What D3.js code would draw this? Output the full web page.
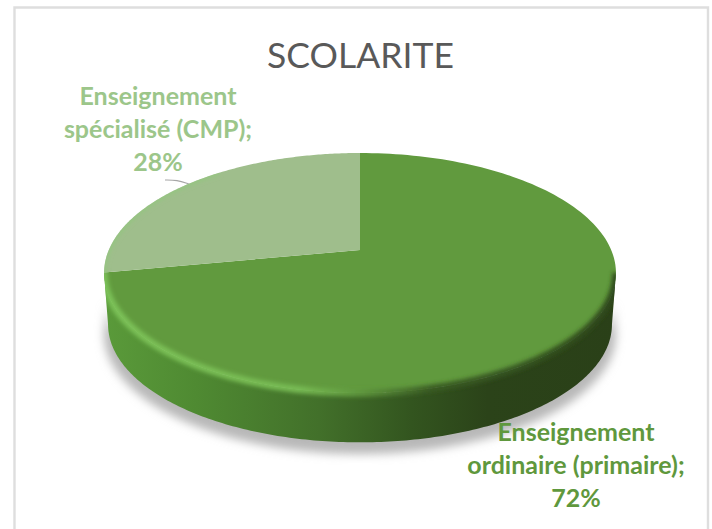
<!DOCTYPE html>
<html>
<head>
<meta charset="utf-8">
<script src="https://cdn.jsdelivr.net/npm/d3@7/dist/d3.min.js"></script>
<style>
html,body{margin:0;padding:0;background:#fff;}
svg{display:block;}
text{font-family:Lato,"Open Sans",sans-serif;}
</style>
</head>
<body>
<svg id="chart" width="712" height="529"></svg>
<script>
const chartTitle = "SCOLARITE";
const categories = ["Enseignement ordinaire (primaire)", "Enseignement spécialisé (CMP)"];
const shares = [72, 28];
const labelLines = [["Enseignement", "ordinaire (primaire);", "72%"], ["Enseignement", "spécialisé (CMP);", "28%"]];
const faceColors = ["#619a3e", "#9fbe8c"];
const labelColors = ["#5f983d", "#9cc68a"];

const svg = d3.select("#chart");
const defs = svg.append("defs");

// Perspective-tilted pie: rim points derive from pie angles
const cx = 360, cy = 250, rimX = 251.2, rimY = 115.6, persp = 0.1917, depth = 52;
const project = (a, inset = 1, dy = 0) => {
  const u = Math.sin(a) * inset, v = -Math.cos(a) * inset;
  const w = 1 - persp * v;
  return [cx + rimX * u / w, cy + rimY * v / w + dy];
};
const pieGen = d3.pie().sort(null).value(d => d);
const arcs = pieGen(shares);
const line = d3.line();
const rim = (a0, a1, inset = 1, dy = 0, n = 160) =>
  d3.range(n + 1).map(i => project(a0 + (a1 - a0) * i / n, inset, dy));

const full = rim(0, 2 * Math.PI, 1, 0, 360);
const frontA = Math.PI / 2 + persp, frontB = 3 * Math.PI / 2 - persp;
const sidePts = rim(frontA, frontB, 1, 0, 200)
  .concat(rim(frontB, frontA, 0.985, depth, 200));

// filters and gradients
const blur = (id, s) => defs.append("filter").attr("id", id)
  .attr("x", "-20%").attr("y", "-20%").attr("width", "140%").attr("height", "140%")
  .append("feGaussianBlur").attr("stdDeviation", s);
blur("shadowBlur", 5);
blur("bevelBlur", 2.2);

const sideGrad = defs.append("linearGradient").attr("id", "sideGrad")
  .attr("gradientUnits", "userSpaceOnUse").attr("x1", 104).attr("x2", 616).attr("y1", 0).attr("y2", 0);
[[0, "#5a9a3a"], [0.18, "#4f8a32"], [0.42, "#42702a"], [0.6, "#33551f"], [0.75, "#2b4319"], [1, "#2a4018"]]
  .forEach(([o, c]) => sideGrad.append("stop").attr("offset", o).attr("stop-color", c));

const bevelGrad = defs.append("linearGradient").attr("id", "bevelGrad")
  .attr("gradientUnits", "userSpaceOnUse").attr("x1", 104).attr("x2", 616).attr("y1", 0).attr("y2", 0);
[[0, "#7cc258"], [0.38, "#78bc54"], [0.5, "#5f973d"], [0.64, "#3a5c24"], [1, "#2f4a1c"]]
  .forEach(([o, c]) => bevelGrad.append("stop").attr("offset", o).attr("stop-color", c));

const bodyClip = defs.append("clipPath").attr("id", "bodyClip");
bodyClip.append("path").attr("d", line(full) + "Z");
bodyClip.append("path").attr("d", line(sidePts) + "Z");
defs.append("clipPath").attr("id", "faceClip").append("path").attr("d", line(full) + "Z");

// frame
svg.append("path")
  .attr("d", "M14.5,529V7.5H708V529")
  .attr("fill", "none").attr("stroke", "#dedede").attr("stroke-width", 2.4);

// title
svg.append("text").attr("x", 360.5).attr("y", 68).attr("text-anchor", "middle")
  .attr("font-size", 35.5).attr("fill", "#595959").text(chartTitle);

// ground shadow
svg.append("path")
  .attr("d", line(rim(frontA, frontB, 1.0, depth + 9, 200).concat(rim(frontB, frontA, 0.99, 30, 200))) + "Z")
  .attr("fill", "#b8b8b8").attr("filter", "url(#shadowBlur)");

// side wall
svg.append("path").attr("d", line(sidePts) + "Z").attr("fill", "url(#sideGrad)");

// top face slices
const faces = svg.append("g");
arcs.forEach((d, i) => {
  const pts = [[cx, cy]].concat(rim(d.startAngle, d.endAngle));
  faces.append("path").attr("d", line(pts) + "Z").attr("fill", faceColors[i])
    .append("title").text(categories[i]);
});

// bevel straddling the front rim, plus a thin light one on the small slice
svg.append("g").attr("clip-path", "url(#bodyClip)").append("path")
  .attr("d", line(rim(arcs[1].startAngle, frontA, 1, 0)))
  .attr("fill", "none").attr("stroke", "url(#bevelGrad)").attr("stroke-width", 7)
  .attr("filter", "url(#bevelBlur)");
svg.append("g").attr("clip-path", "url(#faceClip)").append("path")
  .attr("d", line(rim(arcs[1].startAngle, 2 * Math.PI - 0.7, 1)))
  .attr("fill", "none").attr("stroke", "#93c67f").attr("stroke-width", 4)
  .attr("filter", "url(#bevelBlur)");

// labels
const labelAnchors = [{x: 158, y: 105}, {x: 576, y: 441}];
const labelOrder = [1, 0];
const lineStep = 33;
labelOrder.forEach((src, i) => {
  const t = svg.append("text").attr("text-anchor", "middle").attr("font-size", 25)
    .attr("font-weight", 700).attr("fill", labelColors[src]);
  labelLines[src].forEach((s, j) => t.append("tspan").attr("x", labelAnchors[i].x)
    .attr("y", labelAnchors[i].y + j * lineStep).text(s));
});

// leader line
const [lx, ly] = project(arcs[1].startAngle + (arcs[1].endAngle - arcs[1].startAngle) * 0.504, 1.0);
svg.append("path")
  .attr("d", d3.line().curve(d3.curveBasis)([[165, 180], [165, 180], [177, 180], [lx, ly], [lx, ly]]))
  .attr("fill", "none").attr("stroke", "#a6a6a6").attr("stroke-width", 1.1);
</script>
</body>
</html>
